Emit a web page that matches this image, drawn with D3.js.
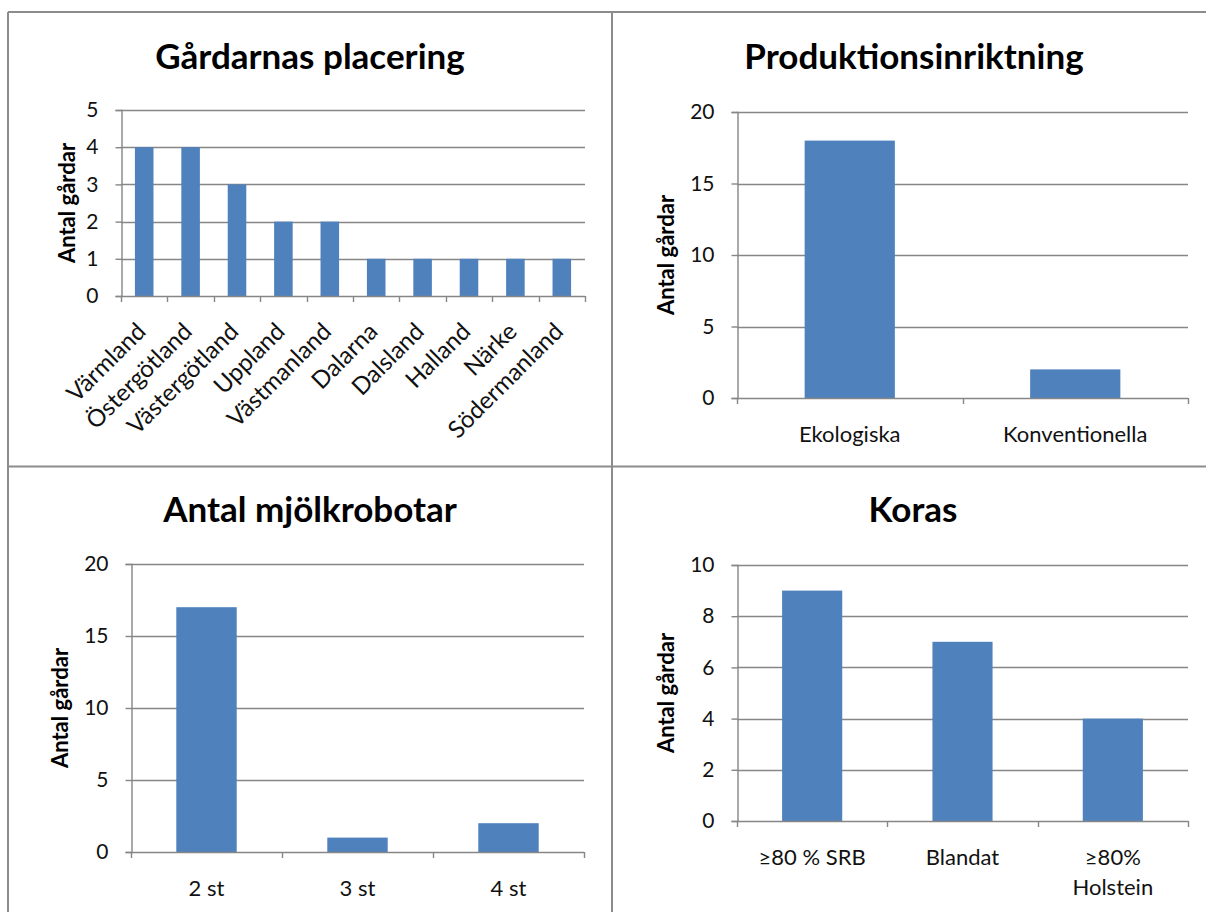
<!DOCTYPE html>
<html>
<head>
<meta charset="utf-8">
<script src="https://cdn.jsdelivr.net/npm/d3@7"></script>
<style>
  body { margin: 0; background: #fff; }
  svg { display: block; }
  text { font-family: Lato, "Open Sans", sans-serif; fill: #111; }
</style>
</head>
<body>
<svg id="chart" width="1206" height="912"></svg>
<script>
// ---- data ----
const regionNames = ["Värmland", "Östergötland", "Västergötland", "Uppland", "Västmanland",
                     "Dalarna", "Dalsland", "Halland", "Närke", "Södermanland"];
const regionFarms = [4, 4, 3, 2, 2, 1, 1, 1, 1, 1];
const regionTicks = [0, 1, 2, 3, 4, 5];

const productionNames = ["Ekologiska", "Konventionella"];
const productionFarms = [18, 2];
const productionTicks = [0, 5, 10, 15, 20];

const robotNames = ["2 st", "3 st", "4 st"];
const robotFarms = [17, 1, 2];
const robotTicks = [0, 5, 10, 15, 20];

const breedNames = ["≥80 % SRB", "Blandat", "≥80%\nHolstein"];
const breedFarms = [9, 7, 4];
const breedTicks = [0, 2, 4, 6, 8, 10];

const titles = ["Gårdarnas placering", "Produktionsinriktning", "Antal mjölkrobotar", "Koras"];
const yAxisTitle = "Antal gårdar";

// ---- layout of the four panels ----
const panels = [
  { title: titles[0], names: regionNames, values: regionFarms, ticks: regionTicks,
    left: 121, right: 585, top: 110, bottom: 296, titleX: 310, titleY: 69,
    yTitleX: 75, rotate: true },
  { title: titles[1], names: productionNames, values: productionFarms, ticks: productionTicks,
    left: 737, right: 1188, top: 112, bottom: 398, titleX: 914, titleY: 69,
    yTitleX: 674, rotate: false },
  { title: titles[2], names: robotNames, values: robotFarms, ticks: robotTicks,
    left: 131, right: 584, top: 564, bottom: 852, titleX: 310, titleY: 522,
    yTitleX: 68, rotate: false },
  { title: titles[3], names: breedNames, values: breedFarms, ticks: breedTicks,
    left: 737, right: 1188, top: 565, bottom: 821, titleX: 913, titleY: 522,
    yTitleX: 674, rotate: false }
];

const svg = d3.select("#chart");
const gridColor = "#868686";
const barColor = "#4f81bd";

// panel frame lines
const frame = svg.append("g").attr("stroke", "#8c8c8c").attr("stroke-width", 2).attr("fill", "none");
frame.append("line").attr("x1", 8).attr("x2", 1206).attr("y1", 12).attr("y2", 12);
frame.append("line").attr("x1", 8).attr("x2", 8).attr("y1", 12).attr("y2", 912);
frame.append("line").attr("x1", 612).attr("x2", 612).attr("y1", 12).attr("y2", 912);
frame.append("line").attr("x1", 8).attr("x2", 1206).attr("y1", 466.5).attr("y2", 466.5);

panels.forEach(p => {
  const g = svg.append("g");
  const x = d3.scaleBand().domain(p.names).range([p.left, p.right]).paddingInner(0.6).paddingOuter(0.3);
  const xb = d3.scaleBand().domain(p.names).range([p.left, p.right]);
  const y = d3.scaleLinear().domain([0, d3.max(p.ticks)]).range([p.bottom, p.top]);

  // title
  g.append("text").attr("x", p.titleX).attr("y", p.titleY)
    .attr("text-anchor", "middle").style("font-size", "35px").style("font-weight", "bold")
    .style("fill", "#000").text(p.title);

  // horizontal gridlines
  g.append("g").selectAll("line").data(p.ticks.filter(t => t > 0)).join("line")
    .attr("x1", p.left).attr("x2", p.right)
    .attr("y1", d => Math.round(y(d)) + 0.5).attr("y2", d => Math.round(y(d)) + 0.5)
    .attr("stroke", gridColor).attr("stroke-width", 1.4);

  // bars
  g.append("g").selectAll("rect").data(p.values).join("rect")
    .attr("x", (d, i) => x(p.names[i]))
    .attr("width", x.bandwidth())
    .attr("y", d => y(d))
    .attr("height", d => y(0) - y(d))
    .attr("fill", barColor);

  // y axis
  const yAxis = d3.axisLeft(y).tickValues(p.ticks).tickSize(6).tickPadding(17).tickFormat(d3.format("d"));
  const ya = g.append("g").attr("transform", `translate(${p.left + 0.5},0)`).call(yAxis);
  ya.select(".domain").attr("stroke", gridColor).attr("stroke-width", 1.4);
  ya.selectAll(".tick line").attr("stroke", gridColor).attr("stroke-width", 1.4);
  ya.selectAll(".tick text").style("font-size", "21px").style("font-family", "Lato").attr("fill", "#1a1a1a");

  // x axis line with category boundary ticks
  const boundaries = p.names.map(n => xb(n)).concat([p.right]);
  g.append("line").attr("x1", p.left).attr("x2", p.right)
    .attr("y1", p.bottom + 0.5).attr("y2", p.bottom + 0.5)
    .attr("stroke", gridColor).attr("stroke-width", 1.4);
  g.append("g").selectAll("line").data(boundaries).join("line")
    .attr("x1", d => Math.round(d) + 0.5).attr("x2", d => Math.round(d) + 0.5)
    .attr("y1", p.bottom).attr("y2", p.bottom + 6)
    .attr("stroke", gridColor).attr("stroke-width", 1.4);

  // category labels
  if (p.rotate) {
    g.append("g").selectAll("text").data(p.names).join("text")
      .attr("transform", d => `translate(${xb(d) + xb.bandwidth() / 2 - 3},${p.bottom + 31}) rotate(-45)`)
      .attr("text-anchor", "end").attr("dy", "0.35em")
      .style("font-size", "24px").attr("fill", "#1a1a1a").text(d => d);
  } else {
    const lbl = g.append("g").selectAll("text").data(p.names).join("text")
      .attr("x", d => xb(d) + xb.bandwidth() / 2).attr("y", p.bottom + 44)
      .attr("text-anchor", "middle").style("font-size", "22px").attr("fill", "#1a1a1a");
    lbl.each(function (d) {
      const t = d3.select(this);
      d.split("\n").forEach((line, i) => {
        t.append("tspan").attr("x", xb(d) + xb.bandwidth() / 2).attr("dy", i === 0 ? 0 : 30).text(line);
      });
    });
  }

  // y axis title
  g.append("text")
    .attr("transform", `translate(${p.yTitleX},${(p.top + p.bottom) / 2}) rotate(-90)`)
    .attr("text-anchor", "middle").style("font-size", "22px").style("font-weight", "bold")
    .style("fill", "#000").text(yAxisTitle);
});
</script>
</body>
</html>
